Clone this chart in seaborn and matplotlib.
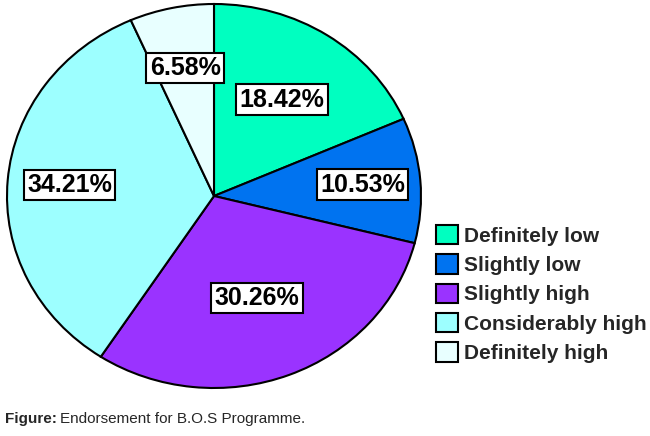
import matplotlib
matplotlib.use('Agg')
import matplotlib.pyplot as plt
import numpy as np
import seaborn as sns

# data
categories = ['Definitely low', 'Slightly low', 'Slightly high', 'Considerably high', 'Definitely high']
shares = [18.42, 10.53, 30.26, 34.21, 6.58]
caption_bold = 'Figure:'
caption_text = 'Endorsement for B.O.S Programme.'

# style
colors = sns.color_palette(['#00FFC0', '#0073F0', '#9A33FF', '#9DFFFF', '#E8FFFF'])
label_dist = [0.60, 0.72, 0.57, 0.70, 0.68]

sns.set_theme(style='white')
plt.rcParams['font.family'] = ['Liberation Sans', 'DejaVu Sans']

fig = plt.figure(figsize=(6.5, 4.36), dpi=100)
W, H = 650, 436
cx, cy, rx, ry = 214, 196, 207, 192
ax = fig.add_axes([(cx - rx) / W, (H - cy - ry) / H, 2 * rx / W, 2 * ry / H])

wedges, _ = ax.pie(shares, colors=colors, startangle=90, counterclock=False,
                   wedgeprops=dict(edgecolor='black', linewidth=1.5))
ax.set_aspect('auto')
ax.set_xlim(-1, 1)
ax.set_ylim(-1, 1)
ax.axis('off')

# percentage labels in white boxes
for w, v, d in zip(wedges, shares, label_dist):
    ang = np.deg2rad((w.theta1 + w.theta2) / 2)
    ax.text(d * np.cos(ang), d * np.sin(ang), f'{v:.2f}%', ha='center', va='center',
            fontsize=18, fontweight='bold', color='black',
            bbox=dict(boxstyle='square,pad=0.13', facecolor='white', edgecolor='black', linewidth=1.5))

leg = fig.legend(wedges, categories, loc='upper left', bbox_to_anchor=(436 / W, 1 - 225 / H),
                 frameon=False, prop=dict(weight='bold', size=15),
                 handlelength=1.05, handleheight=1.05, handletextpad=0.3, labelspacing=0.41,
                 borderaxespad=0, borderpad=0)

# caption with bold lead
cap_font = ['Liberation Sans Narrow', 'Liberation Sans', 'DejaVu Sans']
t1 = fig.text(5 / W, 1 - 419 / H, caption_bold, fontsize=11, fontweight='bold',
              family=cap_font, va='center')
fig.canvas.draw()
bb = t1.get_window_extent()
fig.text((bb.x1 + 3) / W, 1 - 419 / H, caption_text, fontsize=11,
         family=cap_font, va='center')

fig.savefig('out.png', dpi=100)
